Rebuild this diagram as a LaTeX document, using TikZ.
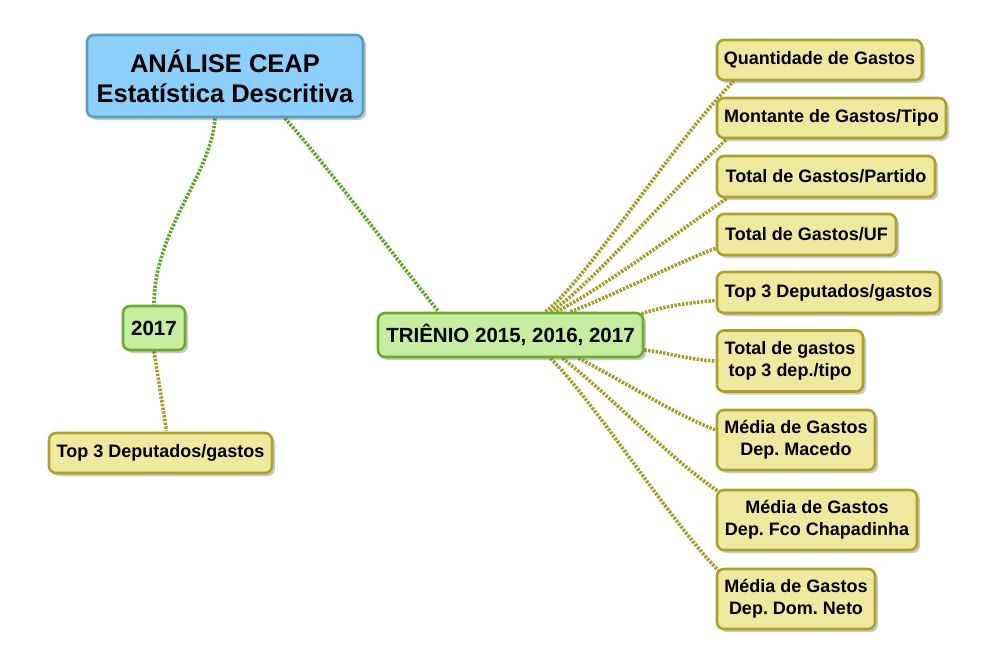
\documentclass[tikz,border=0pt]{standalone}
\usepackage{fontspec}
\setmainfont{Liberation Sans}
\frenchspacing
\usetikzlibrary{shadows,backgrounds}
\definecolor{rootfill}{HTML}{8DCFFB}
\definecolor{rootdraw}{HTML}{5A9EBC}
\definecolor{grfill}{HTML}{C6EEA0}
\definecolor{grdraw}{HTML}{6AAB30}
\definecolor{yefill}{HTML}{EEE99E}
\definecolor{yedraw}{HTML}{A9A22B}
\definecolor{grline}{HTML}{62A52A}
\definecolor{yeline}{HTML}{A49E28}
\tikzset{
  box/.style={rounded corners=7pt, line width=2.6pt, align=center, inner sep=0pt,
    drop shadow={shadow xshift=3pt, shadow yshift=-3pt, opacity=0.3, fill=black!70}},
  rootbox/.style={box, fill=rootfill, draw=rootdraw, font=\fontsize{25.5}{30}\selectfont\bfseries},
  grbox/.style={box, fill=grfill, draw=grdraw, font=\fontsize{20.5}{24}\selectfont\bfseries},
  yebox/.style={box, fill=yefill, draw=yedraw, font=\fontsize{18}{22}\selectfont\bfseries},
  grlink/.style={draw=grline, line width=3.6pt, dash pattern=on 2.4pt off 1.4pt},
  yelink/.style={draw=yeline, line width=3.6pt, dash pattern=on 2.4pt off 1.4pt},
}
\begin{document}
\begin{tikzpicture}[x=1pt,y=-1pt]
\useasboundingbox (0,0) rectangle (997,667);
% main nodes
\node[rootbox, minimum width=276pt, minimum height=82pt] (root) at (225,76) {ANÁLISE CEAP\\Estatística Descritiva};
\node[grbox, minimum width=62pt, minimum height=44pt] (y2017) at (154,328) {2017};
\node[grbox, minimum width=265pt, minimum height=44pt] (tri) at (510.5,335) {TRIÊNIO 2015, 2016, 2017};
\node[yebox, minimum width=223pt, minimum height=40pt] (ltop) at (160.5,453) {Top 3 Deputados/gastos};
% leaves
\node[yebox, minimum width=205pt, minimum height=40pt] (l1) at (819.5,60) {Quantidade de Gastos};
\node[yebox, minimum width=229pt, minimum height=40pt] (l2) at (831.5,118) {Montante de Gastos/Tipo};
\node[yebox, minimum width=218pt, minimum height=41pt] (l3) at (826,176.5) {Total de Gastos/Partido};
\node[yebox, minimum width=179pt, minimum height=41pt] (l4) at (806.5,234.5) {Total de Gastos/UF};
\node[yebox, minimum width=223pt, minimum height=41pt] (l5) at (828.5,292.5) {Top 3 Deputados/gastos};
\node[yebox, minimum width=146pt, minimum height=61pt] (l6) at (790,361) {Total de gastos\\top 3 dep./tipo};
\node[yebox, minimum width=158pt, minimum height=60pt] (l7) at (796,440) {Média de Gastos\\Dep. Macedo};
\node[yebox, minimum width=200pt, minimum height=60pt] (l8) at (817,520) {Média de Gastos\\Dep. Fco Chapadinha};
\node[yebox, minimum width=158pt, minimum height=60pt] (l9) at (796,599) {Média de Gastos\\Dep. Dom. Neto};
% connectors
\begin{pgfonlayer}{background}
\fill[white] (0,0) rectangle (997,667);
\draw[grlink] ([xshift=-10pt]root.south) .. controls +(-3,55) and +(0,-75) .. (y2017.north);
\draw[grlink] ([xshift=60pt]root.south) .. controls +(40,45) and +(-40,-50) .. ([xshift=-72pt]tri.north);
\draw[yelink] (y2017.south) -- ([xshift=6pt,yshift=1pt]ltop.north);
\draw[yelink] ([xshift=35pt]tri.north) .. controls +(40,-30) and +(-60,60) .. ([xshift=18pt]l1.south west);
\draw[yelink] ([xshift=40pt]tri.north) .. controls +(40,-25) and +(-55,50) .. ([xshift=11pt]l2.south west);
\draw[yelink] ([xshift=46pt]tri.north) .. controls +(40,-20) and +(-50,35) .. ([xshift=11pt]l3.south west);
\draw[yelink] ([xshift=60pt]tri.north) .. controls +(40,-15) and +(-40,15) .. ([yshift=8pt]l4.south west);
\draw[yelink] ([xshift=-3pt,yshift=-2pt]tri.north east) .. controls +(25,-8) and +(-25,2) .. ([yshift=-8pt]l5.west);
\draw[yelink] ([yshift=-15pt]tri.east) .. controls +(25,3) and +(-25,-1) .. (l6.west);
\draw[yelink] ([xshift=68pt]tri.south) .. controls +(40,20) and +(-40,-15) .. ([yshift=10pt]l7.west);
\draw[yelink] ([xshift=52pt]tri.south) .. controls +(45,35) and +(-45,-30) .. ([xshift=3pt,yshift=-3pt]l8.north west);
\draw[yelink] ([xshift=40pt]tri.south) .. controls +(45,45) and +(-45,-45) .. ([xshift=3pt,yshift=-3pt]l9.north west);
\end{pgfonlayer}
\end{tikzpicture}
\end{document}
